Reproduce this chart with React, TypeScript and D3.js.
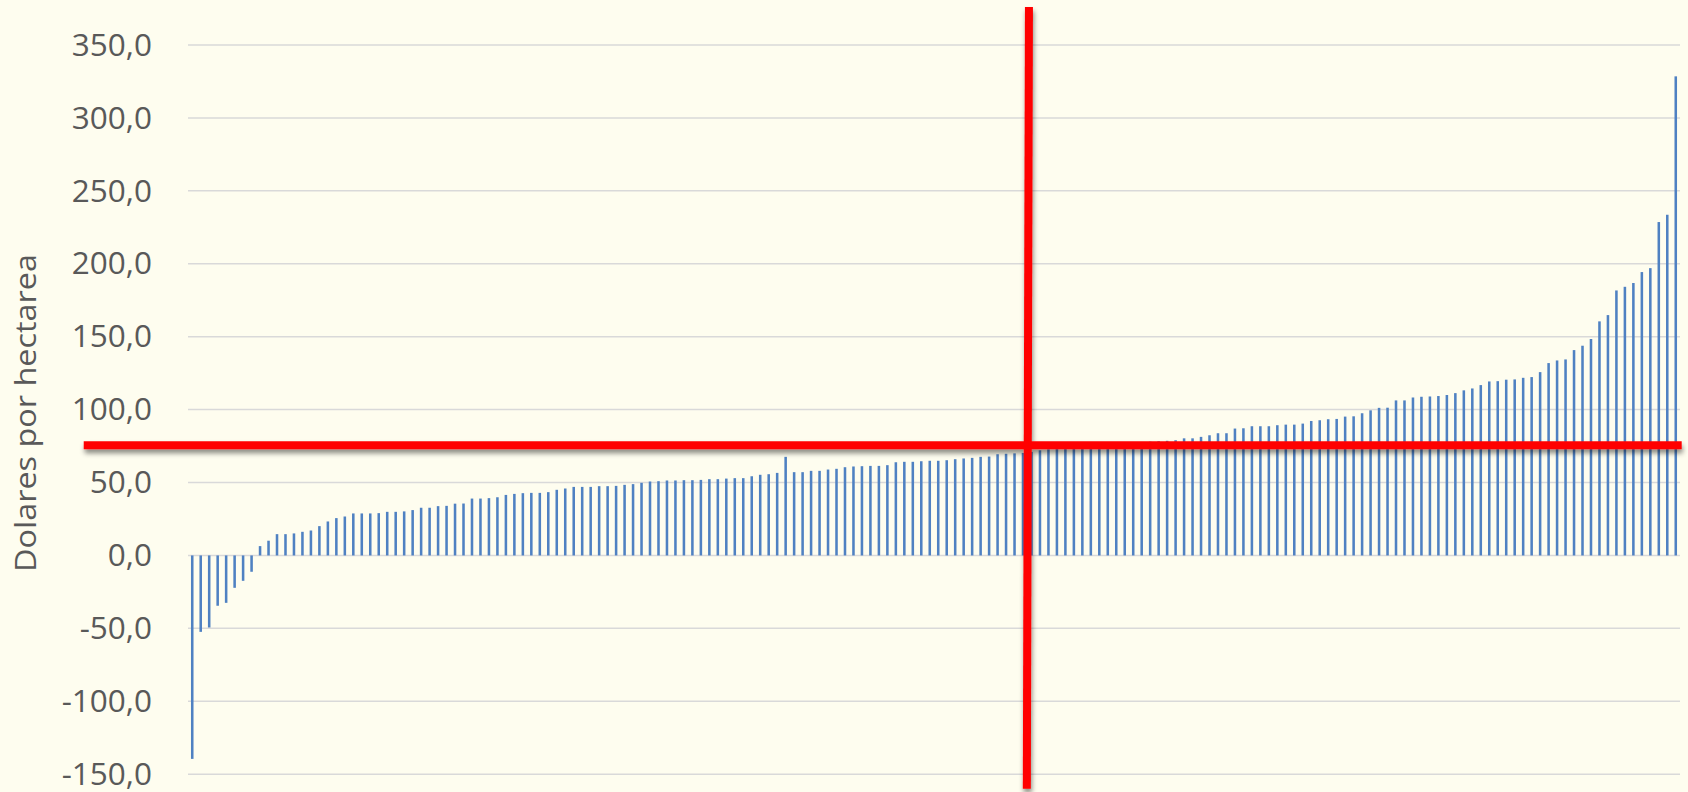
import React, { useRef, useEffect } from 'react';
import * as d3 from 'd3';

// one bar per farm, sorted by value (USD/ha)
const values: number[] = [
  -139.5, -52.4, -49.4, -34.5, -32.5, -22.2, -17.4, -11.2, 6.4, 10.1,
  14.6, 14.6, 15.1, 16.2, 17.1, 20.1, 23.3, 25.6, 26.7, 28.8,
  28.8, 28.8, 29.0, 29.9, 29.9, 30.2, 31.1, 32.7, 32.7, 33.8,
  34.0, 35.5, 35.6, 39.0, 39.0, 39.3, 39.9, 41.5, 42.2, 42.7,
  42.9, 42.9, 43.4, 45.0, 45.9, 47.0, 47.0, 47.0, 47.5, 47.5,
  47.7, 48.4, 48.9, 49.8, 50.7, 50.9, 51.4, 51.4, 51.6, 51.6,
  51.8, 52.3, 52.3, 52.7, 53.0, 53.0, 54.3, 55.3, 55.7, 56.6,
  67.6, 57.1, 57.1, 58.0, 58.0, 58.9, 59.4, 60.5, 61.0, 61.2,
  61.4, 61.4, 61.9, 63.9, 64.2, 64.2, 64.6, 64.9, 64.9, 65.3,
  66.0, 66.5, 66.9, 67.6, 67.8, 69.4, 69.7, 70.0, 70.3, 71.0,
  72.1, 72.8, 73.2, 73.5, 73.8, 74.2, 74.5, 75.0, 75.5, 76.0,
  76.5, 77.0, 77.5, 78.0, 78.3, 78.6, 79.0, 80.3, 80.3, 81.3,
  82.4, 83.8, 83.8, 87.0, 87.2, 88.6, 88.6, 88.6, 89.3, 89.7,
  89.7, 90.4, 92.2, 92.7, 93.4, 93.6, 95.2, 95.4, 97.5, 99.5,
  101.2, 101.3, 106.3, 106.3, 108.3, 108.8, 109.0, 109.3, 110.0, 111.3,
  113.2, 114.5, 116.8, 119.3, 119.5, 120.5, 120.7, 121.8, 122.3, 125.7,
  131.9, 133.7, 134.4, 140.8, 143.8, 148.4, 160.5, 164.8, 181.7, 184.2,
  186.8, 194.3, 197.0, 228.6, 233.6, 328.5,
];
const farms: string[] = values.map((_, i) => String(i + 1));

const yTicks: number[] = [-150, -100, -50, 0, 50, 100, 150, 200, 250, 300, 350];
const yTitle = 'Dolares por hectarea';

// red guide lines, in data units (band position / value)
const meanValue = 75.6;
const hLineFrom = -12.3;
const hLineTo = 176.2;
const vLineTop = { pos: 99.2, value: 376 };
const vLineBottom = { pos: 98.95, value: -160 };

const W = 1688;
const H = 792;

const esLocale = d3.formatLocale({ decimal: ',', thousands: '.', grouping: [3], currency: ['$', ''], minus: '-' });
const fmt = esLocale.format('.1f');

const App: React.FC = () => {
  const svgRef = useRef<SVGSVGElement>(null);

  useEffect(() => {
    document.body.style.margin = '0';
    if (!svgRef.current) return;

    const svg = d3.select(svgRef.current);
    svg.selectAll('*').remove();

    const left = 188;
    const right = 1680;

    const x = d3.scaleBand<string>()
      .domain(farms)
      .range([left, right])
      .paddingInner(0.7)
      .paddingOuter(0.35);

    const xPos = d3.scaleLinear().domain([0, farms.length]).range([left, right]);

    const y = d3.scaleLinear()
      .domain([-150, 350])
      .range([774.2, 45]);

    const defs = svg.append('defs');
    const shadow = defs.append('filter')
      .attr('id', 'shadow')
      .attr('x', '-5%').attr('y', '-200%')
      .attr('width', '110%').attr('height', '500%');
    shadow.append('feDropShadow')
      .attr('dx', 1).attr('dy', 4)
      .attr('stdDeviation', 2.5)
      .attr('flood-color', '#000')
      .attr('flood-opacity', 0.45);

    svg.append('rect')
      .attr('width', W).attr('height', H)
      .attr('fill', '#fefdef');

    // Grid lines
    svg.append('g')
      .selectAll('line')
      .data(yTicks)
      .enter().append('line')
      .attr('x1', left).attr('x2', right)
      .attr('y1', d => y(d)).attr('y2', d => y(d))
      .attr('stroke', '#d9d9d9')
      .attr('stroke-width', 1.5);

    // Tick labels
    svg.append('g')
      .selectAll('text')
      .data(yTicks)
      .enter().append('text')
      .attr('x', 152)
      .attr('y', d => y(d))
      .attr('dy', '0.34em')
      .attr('text-anchor', 'end')
      .attr('font-family', '"Open Sans", "DejaVu Sans", sans-serif')
      .attr('font-size', '31.5px')
      .attr('fill', '#595959')
      .text(d => fmt(d));

    // Axis title
    svg.append('text')
      .attr('transform', `translate(36,413) rotate(-90)`)
      .attr('text-anchor', 'middle')
      .attr('font-family', '"Open Sans", sans-serif')
      .attr('font-size', '29px')
      .attr('fill', '#595959')
      .attr('textLength', 318)
      .attr('lengthAdjust', 'spacingAndGlyphs')
      .text(yTitle);

    // Bars
    svg.append('g')
      .selectAll('rect')
      .data(values)
      .enter().append('rect')
      .attr('x', (_, i) => x(farms[i]) || 0)
      .attr('y', d => y(Math.max(0, d)))
      .attr('width', x.bandwidth())
      .attr('height', d => Math.abs(y(d) - y(0)))
      .attr('fill', '#4f81c2');

    // Red guide lines
    const guides = svg.append('g').attr('filter', 'url(#shadow)');
    guides.append('line')
      .attr('x1', xPos(vLineTop.pos)).attr('y1', y(vLineTop.value))
      .attr('x2', xPos(vLineBottom.pos)).attr('y2', y(vLineBottom.value))
      .attr('stroke', '#ff0000')
      .attr('stroke-width', 8);
    guides.append('line')
      .attr('x1', xPos(hLineFrom)).attr('x2', xPos(hLineTo))
      .attr('y1', y(meanValue)).attr('y2', y(meanValue))
      .attr('stroke', '#ff0000')
      .attr('stroke-width', 8);
  }, []);

  return <svg ref={svgRef} width={W} height={H} style={{ display: 'block' }} />;
};

export default App;
